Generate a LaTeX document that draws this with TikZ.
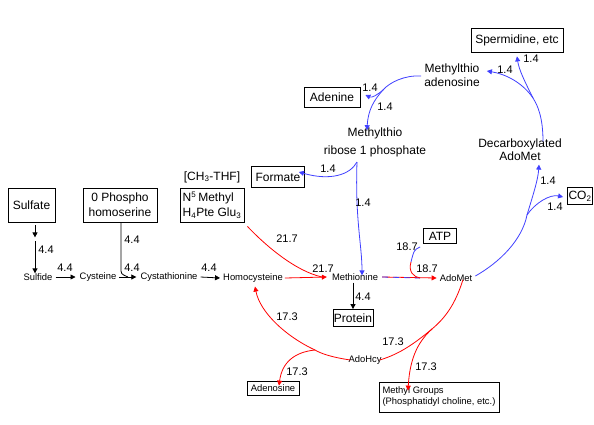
\documentclass[tikz,border=0pt]{standalone}
\usepackage{fontspec}
\setmainfont{Liberation Sans}
\usetikzlibrary{arrows.meta}

\definecolor{rojo}{RGB}{255,0,0}
\definecolor{azul}{RGB}{64,64,255}

\tikzset{
  caja/.style={draw, line width=0.8pt, inner sep=0pt, align=center,
    font=\fontsize{12}{15}\selectfont},
  texto/.style={inner sep=0pt, align=center, font=\fontsize{12}{14}\selectfont},
  chico/.style={inner sep=0pt, font=\fontsize{9.4}{11}\selectfont},
  num/.style={inner sep=0pt, font=\fontsize{11}{12}\selectfont},
  flecha/.style={line width=0.8pt, -{Triangle[length=5pt,width=5pt]}},
  linea/.style={line width=0.8pt}
}

\begin{document}
\begin{tikzpicture}[x=1pt,y=-1pt]

  \useasboundingbox (0,0) rectangle (594,424);

  % Cajas
  \node[caja, minimum width=47, minimum height=34] (sulfato) at (31.5,205) {Sulfate};
  \node[caja, minimum width=74, minimum height=34] (fosfo) at (120,205) {0 Phospho\\homoserine};
  \node[caja, minimum width=64, minimum height=34, align=left] (metil) at (212,205)
    {N\textsuperscript{5}\,Methyl\\H\textsubscript{4}Pte Glu\textsubscript{3}};
  \node[texto] (thf) at (212,177) {[CH\textsubscript{3}-THF]};
  \node[caja, minimum width=53, minimum height=21] (formato) at (278,177) {Formate};
  \node[caja, minimum width=56, minimum height=20] (adenina) at (332,97) {Adenine};
  \node[caja, minimum width=92, minimum height=24] (esperm) at (517,40) {Spermidine, etc};
  \node[caja, minimum width=33, minimum height=15] (atp) at (440,236) {ATP};
  \node[caja, minimum width=25, minimum height=17] (co2) at (580,196) {CO\textsubscript{2}};
  \node[caja, minimum width=40, minimum height=17] (proteina) at (353,318) {Protein};
  \node[caja, chico, minimum width=52, minimum height=14] (adenosina) at (273,388) {Adenosine};
  \node[caja, chico, minimum width=120, minimum height=30, align=left] (grupos) at (439,397)
    {Methyl Groups\\(Phosphatidyl choline, etc.)};

  % Metabolitos
  \node[chico] (sulfuro) at (38,277) {Sulfide};
  \node[chico] (cisteina) at (98,277) {Cysteine};
  \node[chico] (cistationina) at (169,277) {Cystathionine};
  \node[chico] (homocisteina) at (253,278) {Homocysteine};
  \node[chico] (metionina) at (355,277) {Methionine};
  \node[chico] (adomet) at (456,278) {AdoMet};
  \node[chico] (adohcy) at (365,360) {AdoHcy};
  \node[texto, font=\fontsize{12}{13}\selectfont] (decarb) at (520,149.5) {Decarboxylated\\AdoMet};
  \node[texto] (mta) at (452,75) {Methylthio\\adenosine};
  \node[texto, font=\fontsize{12}{18}\selectfont] (mtr) at (375,142) {Methylthio\\ribose 1 phosphate};

  % Puntos de bifurcacion
  \coordinate (bifA) at (527,215);
  \coordinate (bifD) at (533,98);
  \coordinate (bifM) at (383,90);
  \coordinate (bifR) at (357,162);
  \coordinate (bifB) at (432,329);
  \coordinate (bifC) at (315,350);
  \coordinate (unionM) at (322,277);
  \coordinate (unionA) at (420,278);
  \coordinate (unionS) at (128,277);
  \coordinate (medioA) at (411,262);

  % Ruta del azufre
  \draw[flecha]
    ([xshift=3.5pt,yshift=-3pt]sulfato.south) -- ++(0,12);
  \draw[flecha]
    ([xshift=3.5pt,yshift=-19pt]sulfato.south) -- (sulfuro.north -| 35,0);
  \draw[flecha] (sulfuro.east) ++(3,0) -- ([xshift=-4pt]cisteina.west);
  \draw[flecha] ([xshift=3pt]cisteina.east) -- ([xshift=-4pt]cistationina.west);
  \draw[flecha] ([xshift=3pt]cistationina.east) -- ([xshift=-3pt]homocisteina.west);
  \draw[linea]
    (fosfo.south -| 121,0) -- (121,268) .. controls (121,274) .. (unionS);

  % Metionina
  \draw[flecha, rojo] ([xshift=2pt]homocisteina.east) -- ([xshift=-5pt]metionina.west);
  \draw[linea, rojo]
    ([xshift=3pt,yshift=-4pt]metil.south east) .. controls (265,245) and (295,271) .. (unionM);
  \draw[flecha] ([yshift=-2pt]metionina.south -| 353,0) -- (proteina.north -| 353,0);

  % AdoMet
  \draw[flecha, rojo] ([xshift=4pt]metionina.east) -- ([xshift=-3pt]adomet.west);
  \draw[linea, azul, dash pattern=on 6pt off 5pt]
    ([xshift=4pt]metionina.east) -- (unionA);
  \draw[linea, azul]
    ([xshift=-3pt,yshift=-3pt]atp.south west) .. controls (414,250) .. (medioA);
  \draw[linea, rojo]
    (medioA) .. controls (408,272) and (414,277) .. (unionA);

  % Descarboxilacion
  \draw[linea, azul]
    ([xshift=3pt,yshift=2pt]adomet.east) .. controls (500,262) and (522,240) .. (bifA);
  \draw[flecha, azul]
    (bifA) .. controls (533,195) and (538,180) .. ([xshift=19pt,yshift=-4pt]decarb.south);
  \draw[flecha, azul]
    (bifA) .. controls (535,203) and (550,194) .. ([xshift=-4pt,yshift=-1pt]co2.west);
  \draw[linea, azul]
    ([xshift=23pt,yshift=-3pt]decarb.north) .. controls (543,118) and (538,106) .. (bifD);
  \draw[flecha, azul]
    (bifD) .. controls (525,82) and (519,70) .. ([yshift=-4pt]esperm.south);
  \draw[flecha, azul]
    (bifD) .. controls (522,82) and (505,74) .. ([xshift=7pt]mta.east |- 0,71);

  % Metiltioadenosina
  \draw[linea, azul]
    ([xshift=-3pt,yshift=-1pt]mta.west) .. controls (405,75) and (390,82) .. (bifM);
  \draw[flecha, azul]
    (bifM) .. controls (377,95) and (372,98) .. ([xshift=5pt,yshift=2pt]adenina.east);
  \draw[flecha, azul]
    (bifM) .. controls (374,100) and (368,110) .. ([xshift=-8pt,yshift=-3pt]mtr.north);
  \draw[flecha, azul]
    (bifR) .. controls (350,175) and (330,181) .. ([xshift=-6pt,yshift=5pt]formato.east);
  \draw[flecha, azul]
    (bifR) .. controls (355,220) and (362,245) .. ([xshift=7pt,yshift=-2pt]metionina.north);

  % Transmetilacion
  \draw[linea, rojo]
    ([xshift=7pt,yshift=2pt]adomet.south) .. controls (455,305) and (445,318) .. (bifB);
  \draw[linea, rojo]
    (bifB) .. controls (415,343) and (400,354) .. ([xshift=-2pt]adohcy.east);
  \draw[flecha, rojo]
    (bifB) .. controls (420,340) and (410,355) .. ([xshift=-31pt,yshift=-9pt]grupos.north);
  \draw[linea, rojo]
    ([xshift=2pt]adohcy.west) .. controls (330,357) and (320,353) .. (bifC);
  \draw[flecha, rojo]
    (bifC) .. controls (285,336) and (260,312) .. ([xshift=2pt,yshift=-4pt]homocisteina.south);
  \draw[flecha, rojo]
    (bifC) .. controls (295,352) and (282,362) .. ([xshift=6pt,yshift=-5pt]adenosina.north);

  % Etiquetas
  \node[num] (e1) at (46,250) {4.4};
  \node[num] (e2) at (65,268) {4.4};
  \node[num] (e3) at (132,240) {4.4};
  \node[num] (e4) at (132,268) {4.4};
  \node[num] (e5) at (209,268) {4.4};
  \node[num] (e6) at (287,239) {21.7};
  \node[num] (e7) at (323,269) {21.7};
  \node[num] (e8) at (363,297) {4.4};
  \node[num] (e9) at (407,247) {18.7};
  \node[num] (e10) at (427,269) {18.7};
  \node[num] (e11) at (548,181) {1.4};
  \node[num] (e12) at (555,207) {1.4};
  \node[num] (e13) at (531,59) {1.4};
  \node[num] (e14) at (505,70) {1.4};
  \node[num] (e15) at (370,88) {1.4};
  \node[num] (e16) at (385,107) {1.4};
  \node[num] (e17) at (328,169) {1.4};
  \node[num] (e18) at (363,203) {1.4};
  \node[num] (e19) at (287,317) {17.3};
  \node[num] (e20) at (297,372) {17.3};
  \node[num] (e21) at (393,342) {17.3};
  \node[num] (e22) at (426,367) {17.3};

\end{tikzpicture}
\end{document}
